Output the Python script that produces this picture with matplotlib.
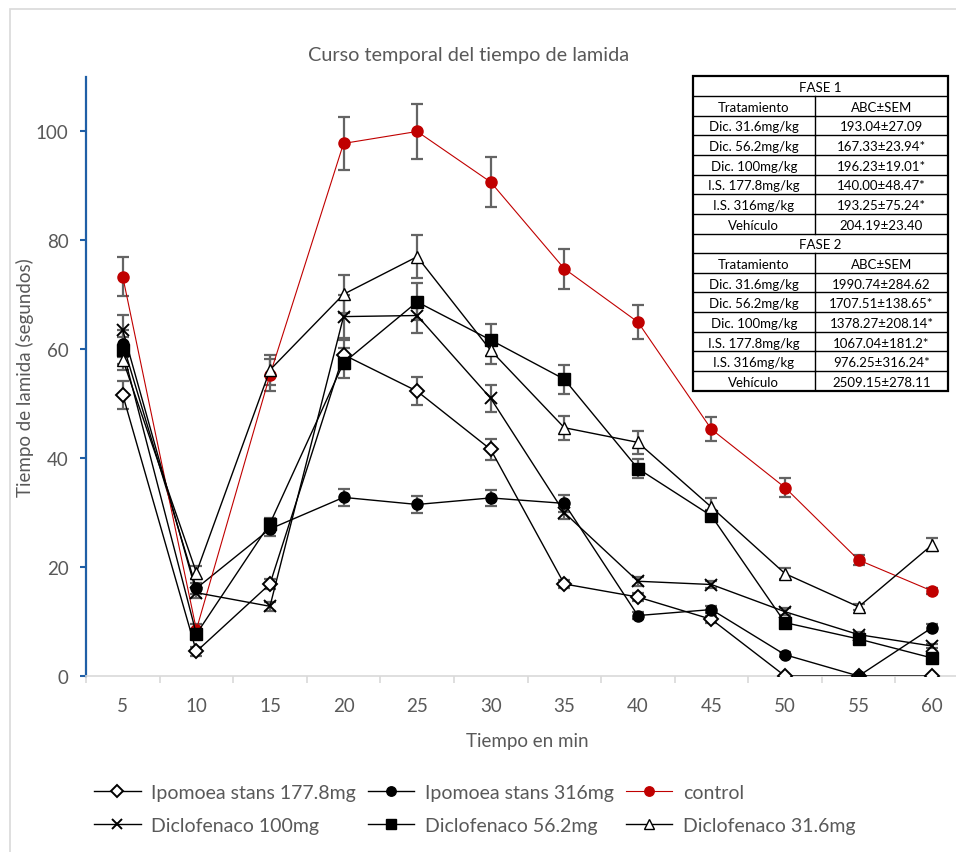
import numpy as np
import matplotlib
matplotlib.use('Agg')
import matplotlib.pyplot as plt
from matplotlib.patches import Rectangle

plt.rcParams['font.family'] = ['Lato', 'DejaVu Sans']

# data
times = [5, 10, 15, 20, 25, 30, 35, 40, 45, 50, 55, 60]

ipo_177 = [51.6, 4.5, 16.9, 59.0, 52.3, 41.6, 16.9, 14.5, 10.4, 0, 0, 0]
ipo_177_err = [2.5, 0.8, 1.0, 2.7, 2.6, 1.9, 0.8, 0.8, 0.7, 0, 0, 0]

ipo_316 = [61.0, 16.1, 27.0, 32.8, 31.5, 32.7, 31.7, 11.1, 12.2, 3.9, 0, 8.9]
ipo_316_err = [2.5, 1.0, 1.2, 1.6, 1.5, 1.5, 1.6, 0.6, 0.7, 0.5, 0, 0.6]

control = [73.3, 8.5, 55.3, 97.8, 100.0, 90.7, 74.8, 65.0, 45.3, 34.6, 21.3, 15.6]
control_err = [3.6, 1.0, 3.0, 4.9, 5.0, 4.6, 3.7, 3.2, 2.2, 1.7, 0.9, 0.5]

dic_100 = [63.5, 15.3, 12.8, 66.0, 66.2, 51.0, 30.0, 17.4, 16.8, 11.8, 7.6, 5.5]
dic_100_err = [2.8, 1.0, 0.8, 4.0, 3.3, 2.5, 1.2, 0.8, 0.7, 0.6, 0.5, 0.4]

dic_56 = [59.8, 7.7, 28.0, 57.5, 68.7, 61.7, 54.5, 38.1, 29.4, 9.8, 6.8, 3.3]
dic_56_err = [2.5, 0.8, 1.0, 2.8, 3.4, 2.9, 2.7, 1.8, 1.0, 0.6, 0.5, 0.4]

dic_31 = [58.1, 19.0, 56.2, 70.1, 77.0, 59.8, 45.6, 42.9, 31.0, 18.8, 12.7, 24.1]
dic_31_err = [1.9, 1.2, 2.8, 3.5, 3.9, 2.5, 2.2, 2.1, 1.7, 1.0, 0.6, 1.2]

# table contents
tratamientos = ["Dic. 31.6mg/kg", "Dic. 56.2mg/kg", "Dic. 100mg/kg",
                "I.S. 177.8mg/kg", "I.S. 316mg/kg", "Vehículo"]
fase1_abc = ["193.04±27.09", "167.33±23.94*", "196.23±19.01*",
             "140.00±48.47*", "193.25±75.24*", "204.19±23.40"]
fase2_abc = ["1990.74±284.62", "1707.51±138.65*", "1378.27±208.14*",
             "1067.04±181.2*", "976.25±316.24*", "2509.15±278.11"]

GRAY = '#595959'
RED = '#C00000'
W, H = 956, 853

fig = plt.figure(figsize=(9.56, 8.53), dpi=100)
fig.add_artist(Rectangle((10 / W, -0.02), 1.1, 1 - 10 / H + 0.02, transform=fig.transFigure,
                         facecolor='none', edgecolor='#d9d9d9', lw=1.2))

ax = fig.add_axes([86 / W, 1 - 677 / H, (969 - 86) / W, (677 - 78) / H])
x = np.arange(len(times))

series = [
    ("Ipomoea stans 177.8mg", ipo_177, ipo_177_err, dict(marker='D', ms=7.2, mfc='white', mec='black', color='black', lw=1.0, mew=1.4)),
    ("Ipomoea stans 316mg", ipo_316, ipo_316_err, dict(marker='o', ms=8, mfc='black', mec='black', color='black', lw=1.0)),
    ("control", control, control_err, dict(marker='o', ms=8, mfc=RED, mec=RED, color=RED, lw=0.8)),
    ("Diclofenaco 100mg", dic_100, dic_100_err, dict(marker='x', ms=9, mec='black', color='black', lw=1.0, mew=1.4)),
    ("Diclofenaco 56.2mg", dic_56, dic_56_err, dict(marker='s', ms=8, mfc='black', mec='black', color='black', lw=1.0)),
    ("Diclofenaco 31.6mg", dic_31, dic_31_err, dict(marker='^', ms=9, mfc='white', mec='black', color='black', lw=1.0, mew=1.0)),
]

handles = {}
for name, vals, err, st in series:
    ax.errorbar(x, vals, yerr=err, fmt='none', ecolor='#646464', elinewidth=1.6,
                capsize=4.2, capthick=1.6, zorder=2)
for name, vals, err, st in series:
    ln, = ax.plot(x, vals, label=name, zorder=3, **st)
    handles[name] = ln

ax.set_xlim(-0.5, 11.5)
ax.set_ylim(0, 110)
ax.set_xticks(x)
ax.set_xticklabels([str(t) for t in times])
ax.set_xticks(np.arange(-0.5, 12, 1), minor=True)
ax.tick_params(axis='x', which='major', length=0, pad=15, labelsize=13.5, labelcolor=GRAY)
ax.tick_params(axis='x', which='minor', length=5, width=1.2, color='#d9d9d9')
ax.set_yticks([0, 20, 40, 60, 80, 100])
ax.tick_params(axis='y', length=4.5, width=1.5, color='#1f5fa6', pad=8, labelsize=13.5, labelcolor=GRAY)

for s in ['top', 'right']:
    ax.spines[s].set_visible(False)
ax.spines['left'].set_color('#1f5fa6')
ax.spines['left'].set_linewidth(1.6)
ax.spines['bottom'].set_color('#d9d9d9')
ax.spines['bottom'].set_linewidth(1.2)

ax.set_xlabel("Tiempo en min", fontsize=13.5, color=GRAY, labelpad=13)
ax.set_ylabel("Tiempo de lamida (segundos)", fontsize=13.5, color=GRAY, labelpad=1)

fig.text(469 / W, 1 - 55 / H, "Curso temporal del tiempo de lamida", ha='center', va='center',
         fontsize=14.3, color=GRAY)

order = ["Ipomoea stans 177.8mg", "Diclofenaco 100mg", "Ipomoea stans 316mg",
         "Diclofenaco 56.2mg", "control", "Diclofenaco 31.6mg"]
leg = fig.legend([handles[k] for k in order], order, loc='upper left', ncol=3,
                 bbox_to_anchor=(94 / W, 1 - 785 / H), frameon=False, fontsize=14,
                 handlelength=2.4, handletextpad=0.55, columnspacing=0.6,
                 labelspacing=0.8, borderpad=0, borderaxespad=0, markerscale=0.85)
for t in leg.get_texts():
    t.set_color(GRAY)

# table
tx0, tx1, ty0, ty1 = 692.7, 948, 77.3, 391.7
tab = fig.add_axes([tx0 / W, 1 - ty1 / H, (tx1 - tx0) / W, (ty1 - ty0) / H])
tab.set_xlim(0, 1)
tab.set_ylim(16, 0)
tab.axis('off')
tab.add_patch(Rectangle((0, 0), 1, 16, facecolor='white', edgecolor='none', zorder=0))
div = (815 - tx0) / (tx1 - tx0)

rows = []
for fase, vals in [("FASE 1", fase1_abc), ("FASE 2", fase2_abc)]:
    rows.append((fase, None))
    rows.append(("Tratamiento", "ABC±SEM"))
    for tr, v in zip(tratamientos, vals):
        rows.append((tr, v))

for i, (a, b) in enumerate(rows):
    yc = i + 0.55
    if b is None:
        tab.text(0.5, yc, a, ha='center', va='center', fontsize=9.5)
    else:
        tab.text(div / 2, yc, a, ha='center', va='center', fontsize=9.5)
        tab.text((div + 1) / 2, yc, b, ha='center', va='center', fontsize=9.5)
        tab.plot([div, div], [i, i + 1], color='black', lw=1.0)
for i in range(1, 16):
    tab.plot([0, 1], [i, i], color='black', lw=1.0)
tab.add_patch(Rectangle((0, 0), 1, 16, facecolor='none', edgecolor='black', lw=1.6, clip_on=False))

fig.savefig('out.png', dpi=100)
